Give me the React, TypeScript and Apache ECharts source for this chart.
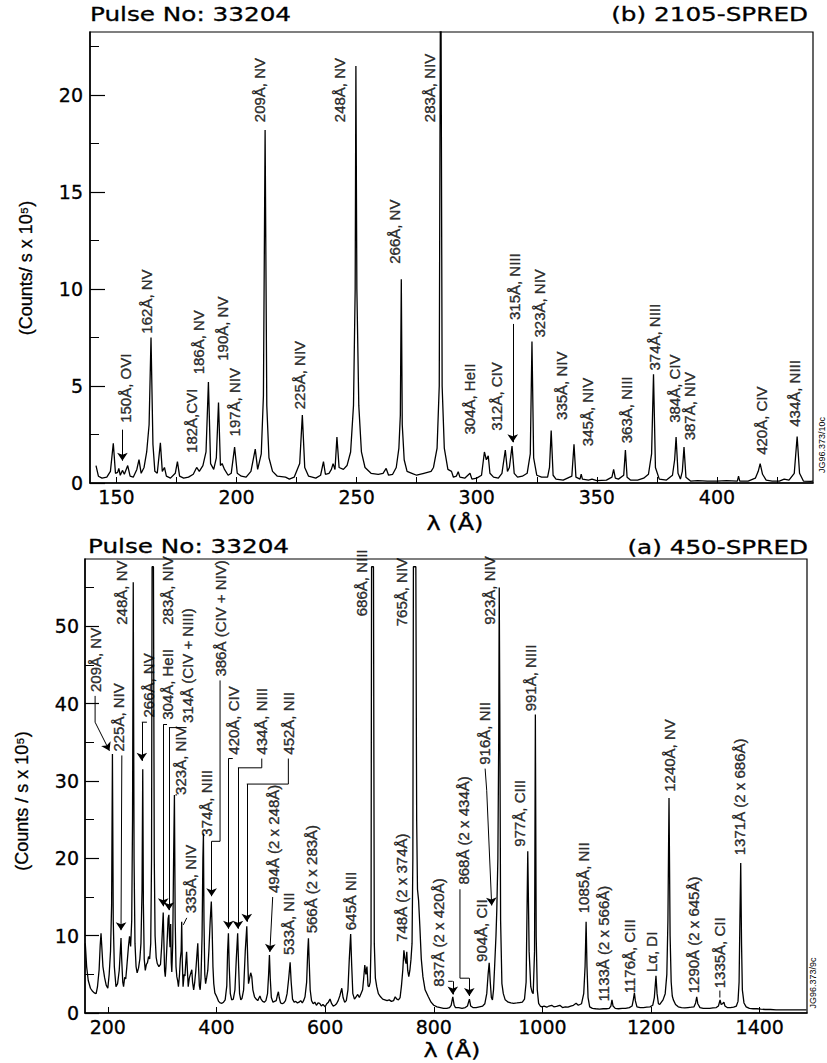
import React, { useEffect, useRef } from 'react';
import * as echarts from 'echarts';

// ---------- data: (b) 2105-SPRED (wavelength Å, counts/s x 1e5) ----------
const topSpectrum: [number, number][] = [
  [141.5, 0.9], [142.5, 0.35], [144, 0.25], [146, 0.3], [147.5, 0.6], [148.7, 2.05], [149.6, 0.5],
  [150.5, 0.55], [151, 0.75], [151.6, 0.4], [152.5, 0.65], [153.3, 0.45], [154.7, 0.9], [155.7, 0.35],
  [157, 0.3], [158.5, 0.7], [159.4, 1.2], [160.3, 0.5], [161.5, 0.8], [162.6, 1.6], [163.6, 3.0],
  [164.4, 7.5], [165.2, 2.0], [166, 0.6], [167, 0.5], [168.3, 2.07], [169.1, 0.6], [170, 0.8],
  [170.8, 0.35], [172.5, 0.25], [174.5, 0.5], [175.4, 1.1], [176.3, 0.35], [178, 0.25], [180, 0.3],
  [182, 0.45], [183.4, 0.8], [184.5, 0.6], [186, 0.9], [187.3, 1.6], [188.3, 5.2], [189.2, 1.0],
  [190.5, 0.7], [191.6, 1.3], [192.5, 4.15], [193.3, 0.9], [194, 1.0], [195, 0.7], [196.5, 0.4],
  [197.8, 0.5], [199.2, 1.85], [200.3, 0.5], [202, 0.35], [204, 0.3], [206, 0.6], [207.8, 1.75],
  [208.8, 0.7], [210.3, 1.5], [211.2, 4.5], [211.9, 18.2], [212.6, 4.0], [213.5, 1.3], [215, 0.6],
  [217, 0.35], [220.4, 0.3], [222, 0.2], [224, 0.3], [226.3, 1.0], [227.4, 3.5], [228.4, 0.8],
  [230, 0.35], [233, 0.25], [235, 0.4], [236.2, 1.1], [237, 0.45], [238.5, 0.5], [239.5, 0.7],
  [240.2, 1.0], [241, 0.7], [241.8, 2.37], [242.7, 0.8], [244.5, 0.7], [246, 0.9], [247.5, 1.6],
  [248.7, 4.0], [249.4, 10], [249.7, 21.5], [250.1, 10], [250.9, 4.0], [252, 1.6], [253.5, 0.8],
  [256, 0.5], [259, 0.45], [261, 0.5], [262.3, 0.75], [263.3, 0.4], [265, 0.45], [266.5, 0.8],
  [267.6, 1.8], [268.2, 3.5], [268.6, 10.5], [269, 3.0], [269.8, 1.2], [271, 0.6], [273, 0.5],
  [275, 0.4], [278, 0.5], [281, 0.6], [282, 0.8], [283.5, 1.8], [284.4, 5.0], [285, 30],
  [285.6, 5.0], [286.5, 1.8], [288, 0.7], [289.5, 0.6], [290.3, 0.3], [291.5, 0.35], [292.3, 0.58],
  [293, 0.3], [295, 0.25], [297.2, 0.5], [298, 0.2], [300, 0.25], [302, 0.4], [303.2, 1.6],
  [304, 1.2], [304.8, 1.4], [305.5, 0.5], [307, 0.3], [309, 0.25], [310.5, 0.5], [311.9, 1.7],
  [312.8, 0.6], [313.6, 0.8], [314.7, 1.9], [315.6, 0.5], [317, 0.3], [319, 0.35], [321, 0.5],
  [322.3, 1.5], [323, 7.3], [323.7, 1.3], [325, 0.4], [327, 0.3], [329.5, 0.3], [330.3, 0.8],
  [331, 2.7], [331.8, 0.4], [333, 0.2], [336, 0.15], [339.6, 0.35], [340.5, 2.0], [341.3, 0.3],
  [343, 0.2], [343.5, 0.45], [344, 0.2], [346.5, 0.15], [348, 0.2], [350, 0.12], [354, 0.15],
  [356.3, 0.3], [357, 0.7], [357.7, 0.25], [359, 0.2], [361.2, 0.4], [361.9, 1.7], [362.6, 0.3],
  [364, 0.15], [367, 0.15], [369.5, 0.25], [370.5, 0.35], [371.5, 0.45], [372.8, 1.5], [373.6, 5.6],
  [374.4, 0.8], [376, 0.2], [379, 0.15], [381.5, 0.4], [382.4, 1.2], [383, 2.37], [383.8, 0.5],
  [384.8, 0.2], [385.6, 0.6], [386.3, 1.85], [387.1, 0.3], [389, 0.1], [392, 0.12], [396, 0.1],
  [400, 0.1], [404, 0.12], [408.5, 0.1], [409, 0.35], [409.5, 0.1], [413, 0.1], [416, 0.25],
  [417.2, 0.6], [418, 1.0], [419, 0.45], [420.5, 0.15], [423, 0.1], [426, 0.1], [428, 0.2],
  [430, 0.15], [432.2, 0.5], [433.4, 2.4], [434.4, 0.5], [436, 0.1], [439, 0.08], [440, 0.1],
];

// ---------- data: (a) 450-SPRED ----------
const bottomSpectrum: [number, number][] = [
  [158.5, 9.0], [161, 6.0], [164, 4.2], [168, 3.2], [172, 2.8], [175, 2.6], [178.5, 2.5], [181, 3.4],
  [184, 5.6], [186, 8.8], [187.5, 10.3], [189, 8.5], [191, 6.0], [194, 4.6], [197, 3.6], [200, 3.2],
  [202.5, 5.0], [205, 8.0], [207, 14], [208.5, 33.5], [210, 12], [212, 6.0], [215, 3.4], [218, 3.8],
  [221, 5.5], [223, 8.0], [224.3, 9.7], [225.5, 7.0], [227.5, 4.0], [229, 3.4], [231, 4.6], [233, 4.4],
  [235, 6.0], [238, 8.6], [240, 9.9], [242, 8.6], [244, 12], [245.5, 25], [246.8, 55.7], [248.3, 20],
  [250, 9.0], [252, 6.0], [254, 5.2], [256.5, 5.8], [259, 7.0], [261, 9.0], [263, 16], [264.3, 31.5],
  [265.5, 14], [267, 7.0], [269, 5.5], [271, 6.3], [273, 6.5], [275, 7.3], [277, 7.0], [279, 9.0],
  [280.5, 20], [281.5, 57.7], [284, 57.7], [285.5, 20], [287, 10], [289, 7.2], [291, 6.4], [294, 6.0],
  [297, 6.3], [299, 8.5], [302, 13.0], [303.3, 9.0], [304.5, 5.5], [305.8, 4.7], [307, 6.0], [309, 9.0],
  [311, 12.2], [312.4, 12.7], [313.4, 10], [314.5, 8.5], [315.7, 11.5], [316.8, 6.5], [317.8, 5.3],
  [319.5, 9.0], [321, 19.4], [322.6, 28.2], [324, 12], [325.5, 6.0], [327, 4.7], [328.5, 4.2], [330, 3.4],
  [332, 5.0], [333.5, 7.0], [335, 8.0], [336, 11.8], [337, 7.0], [338.5, 3.4], [340.5, 5.0], [342, 4.8],
  [343.5, 6.5], [345, 7.9], [346.5, 5.5], [348, 3.4], [350, 4.5], [352, 5.0], [354.6, 5.6], [356, 4.0],
  [358, 3.0], [360, 4.0], [362, 5.5], [364, 7.5], [365.6, 9.0], [367, 6.0], [368.5, 3.5], [370, 3.0],
  [371.5, 4.5], [373.5, 10], [375, 20], [376, 23.2], [377, 12], [378.5, 5.0], [380, 3.8], [382, 4.6],
  [384, 5.5], [386, 8.0], [388.5, 12], [390.5, 14.4], [392, 11], [393.5, 6.0], [395, 3.8], [397, 2.6],
  [400.5, 2.1], [404, 1.5], [407, 1.3], [410, 1.25], [413, 1.4], [416, 1.7], [419, 3.5], [420.5, 8.0],
  [422, 10.3], [423.5, 6.0], [425.5, 2.5], [428, 1.7], [431, 1.8], [434, 3.0], [436.5, 7.0], [439, 10.3],
  [440.8, 6.0], [442.5, 2.5], [444.8, 1.7], [447, 1.9], [450, 3.0], [453, 8.0], [455.8, 11.2], [457.5, 7.0],
  [459, 3.8], [461, 4.5], [463, 5.2], [465, 4.7], [467, 3.0], [470, 2.1], [473, 1.8], [476, 1.6],
  [478, 1.9], [480, 2.2], [482, 1.8], [485, 1.5], [488, 1.4], [491, 1.6], [494, 2.5], [496, 5.0],
  [497.5, 7.5], [499, 4.5], [501, 2.0], [504, 1.4], [507, 1.5], [510, 1.6], [512.5, 2.4], [514, 2.75],
  [515.5, 2.0], [518, 1.3], [521, 1.2], [524, 1.3], [527, 1.6], [530, 2.5], [533, 4.5], [535.6, 6.55],
  [537.5, 4.0], [540, 1.8], [543, 1.4], [546, 1.5], [549, 1.3], [552, 1.4], [555, 1.6], [558, 1.3],
  [561, 1.7], [563, 2.1], [566, 4.0], [568, 8.0], [569.3, 9.65], [570.5, 7.0], [572.5, 3.0], [575, 1.6],
  [578, 1.2], [581, 1.4], [584, 1.0], [587, 1.3], [590, 1.25], [593, 0.9], [596, 1.1], [600, 0.8],
  [603, 1.2], [606, 1.4], [609, 1.8], [612, 1.2], [615, 0.9], [618, 1.0], [621, 1.2], [624, 1.6],
  [627, 2.2], [630.7, 3.2], [633, 2.0], [636, 1.4], [639, 1.6], [642, 3.0], [644.5, 7.0], [647, 10.2],
  [649, 6.0], [651, 2.5], [654, 1.8], [657, 2.1], [660, 2.4], [663, 2.0], [666, 2.5], [669, 3.0],
  [671, 4.5], [673, 6.2], [675, 5.0], [677, 6.0], [679, 3.5], [681, 3.4], [683, 4.0], [684.5, 9.0],
  [685.5, 57.7], [689, 57.7], [690.5, 9.0], [692.5, 4.5], [695, 3.4], [698, 2.5], [702, 2.1], [706, 1.8],
  [710, 1.7], [714, 1.6], [718, 1.7], [722, 1.5], [726, 1.6], [729, 2.1], [732, 1.8], [735, 1.7],
  [738, 2.0], [740.5, 3.5], [743, 5.6], [745, 8.1], [747, 7.0], [749, 6.4], [750.3, 7.9], [752, 5.5],
  [754, 4.7], [756, 5.5], [758, 6.9], [760, 9.0], [761.5, 20], [762.5, 57.7], [767, 57.7], [768.5, 25],
  [770, 16], [772, 14.6], [774.5, 11], [777, 7.0], [780, 4.7], [784, 3.0], [790, 2.1], [795, 1.4],
  [800, 1.0], [806, 0.8], [812, 0.7], [818, 0.6], [824, 0.6], [829, 0.7], [832, 1.0], [835, 2.1],
  [837.5, 1.0], [840, 0.7], [846, 0.7], [852, 0.6], [858, 0.7], [862, 0.9], [865.6, 1.8], [868, 0.9],
  [872, 0.7], [878, 0.7], [884, 0.8], [890, 0.9], [894, 1.2], [897.5, 2.5], [900, 5.0], [902, 6.5],
  [904, 4.0], [906, 2.0], [908, 1.7], [910, 3.0], [912, 6.0], [914.5, 10], [916, 13.3], [918, 20],
  [919.5, 35], [920.5, 55], [921.5, 40], [923, 12], [925.4, 3.8], [928, 2.5], [931.5, 1.7], [937, 1.4],
  [942, 1.3], [947, 1.25], [953, 1.3], [958, 1.35], [963, 1.4], [967, 1.8], [970, 4.0], [973, 20.9],
  [975.5, 8.0], [978.5, 3.4], [981, 2.7], [983, 2.5], [985.5, 8.0], [987, 38.6], [988.5, 10], [990.5, 3.0],
  [993, 1.25], [996, 0.9], [999, 0.8], [1003, 0.9], [1008, 0.75], [1012, 0.9], [1017, 1.0], [1021, 0.8],
  [1026, 0.85], [1032, 1.0], [1037, 0.7], [1042, 0.8], [1047, 0.75], [1052, 0.9], [1057, 1.0], [1062, 1.25],
  [1066, 1.0], [1072, 1.2], [1076, 2.5], [1078.5, 6.0], [1080.4, 11.8], [1082, 6.0], [1084, 2.0], [1087, 0.8],
  [1092, 0.6], [1098, 0.55], [1105, 0.5], [1112, 0.55], [1118, 0.55], [1123, 0.6], [1126, 0.9], [1128, 1.7],
  [1130, 0.9], [1134, 0.6], [1140, 0.55], [1147, 0.6], [1153, 0.6], [1160, 0.7], [1165, 0.9], [1167.5, 1.8],
  [1169.3, 2.6], [1171, 1.6], [1174, 0.8], [1180, 0.7], [1186, 0.7], [1192, 0.75], [1198, 0.8], [1203, 1.0],
  [1206, 2.0], [1209, 4.8], [1211, 2.5], [1213.5, 1.2], [1216, 1.1], [1219, 1.4], [1222, 1.7], [1226, 2.5],
  [1229, 5.0], [1231, 12], [1233, 27.8], [1235, 10], [1237, 4.0], [1239, 2.2], [1241, 1.7], [1245, 1.1],
  [1250, 0.8], [1256, 0.7], [1262, 0.65], [1268, 0.7], [1274, 0.75], [1279, 0.8], [1282, 1.3], [1284, 2.1],
  [1286, 1.2], [1290, 0.7], [1296, 0.6], [1302, 0.6], [1308, 0.6], [1314, 0.65], [1320, 0.7], [1324, 0.9],
  [1327, 1.7], [1329, 1.1], [1331.5, 1.2], [1334, 1.4], [1336, 0.9], [1340, 0.7], [1346, 0.7], [1352, 0.75],
  [1357, 0.9], [1360, 1.5], [1362, 4.0], [1363.5, 12], [1365, 19.4], [1366.5, 9.0], [1368, 3.0], [1371, 1.3],
  [1375, 0.8], [1381, 0.6], [1388, 0.55], [1395, 0.55], [1402, 0.5], [1410, 0.45], [1420, 0.45], [1430, 0.4],
  [1440, 0.4], [1450, 0.4], [1460, 0.4], [1470, 0.4], [1480, 0.4], [1486, 0.4],
];

// ---------- axis ticks ----------
const topXLabels = [150, 200, 250, 300, 350, 400];
const topXTicks = [150, 175, 200, 225, 250, 275, 300, 325, 350, 375, 400, 425];
const topYLabels = [0, 5, 10, 15, 20];
const topYMinor = [2.5, 7.5, 12.5, 17.5, 22.5];
const bottomXLabels = [200, 400, 600, 800, 1000, 1200, 1400];
const bottomYLabels = [0, 10, 20, 30, 40, 50];
const bottomYMinor = [5, 15, 25, 35, 45, 55];

// ---------- line identifications: [text, wavelength, counts at text start] ----------
const topLabels: [string, number, number][] = [
  ['150Å, OVI', 153.75, 3.1], ['162Å, NV', 162.5, 7.7], ['182Å,CVI', 181.25, 1.55],
  ['186Å, NV', 184.2, 5.6], ['190Å, NV', 194.2, 6.3], ['197Å, NIV', 199.2, 2.4],
  ['209Å, NV', 209.6, 18.6], ['225Å, NIV', 226.25, 3.8], ['248Å, NV', 242.9, 18.6],
  ['266Å, NV', 265.8, 11.3], ['283Å, NIV', 280.4, 18.6], ['304Å, HeII', 297.1, 2.5],
  ['312Å, CIV', 308.3, 2.7], ['315Å, NIII', 315.8, 8.4], ['323Å, NIV', 326.25, 7.5],
  ['335Å, NIV', 335.4, 3.25], ['345Å, NIV', 346.25, 1.9], ['363Å, NIII', 362.5, 2.05],
  ['374Å, NIII', 374.2, 5.8], ['384Å, CIV', 382.5, 3.1], ['387Å, NIV', 388.75, 2.2],
  ['420Å, CIV', 418.75, 1.45], ['434Å, NIII', 432.5, 2.9],
];
const topArrows: [number, number][][] = [
  [[152.5, 2.75], [152.5, 1.15]],
  [[315, 8.2], [315, 2.1]],
];

const bottomLabels: [string, number, number][] = [
  ['209Å, NV', 176.6, 41.5], ['225Å, NIV', 219.5, 33.8], ['248Å, NV', 225.8, 50.2],
  ['266Å, NV', 274.7, 38.2], ['283Å, NIV', 309.7, 50.2], ['304Å, HeII', 309.7, 37.9],
  ['314Å (CIV + NIII)', 346.5, 37.5], ['323Å, NIV', 333, 28.2], ['335Å, NIV', 351.4, 12.9],
  ['374Å, NIII', 382.2, 22.8], ['386Å (CIV + NIV)', 406.6, 43.5], ['420Å, CIV', 431.1, 33.4],
  ['434Å, NIII', 483.4, 33.4], ['452Å, NII', 532.3, 33.4], ['494Å (2 x 248Å)', 504.7, 15.5],
  ['533Å, NII', 532.3, 7.5], ['566Å (2 x 283Å)', 575.3, 10.3], ['645Å NII', 647.1, 10.7],
  ['686Å, NIII', 667.3, 51.3], ['748Å (2 x 374Å)', 741, 9.2], ['765Å, NIV', 741, 50.0],
  ['837Å (2 x 420Å)', 808.3, 3.4], ['868Å (2 x 434Å)', 854.3, 16.6], ['904Å, CII', 888.1, 6.6],
  ['916Å, NII', 894.2, 32.1], ['923Å, NIV', 902.1, 50.2], ['977Å, CIII', 957.3, 21.5],
  ['991Å, NIII', 978.8, 39.0], ['1085Å, NII', 1075, 12.9], ['1133Å (2 x 566Å)', 1111.9, 1.5],
  ['1176Å, CIII', 1161, 2.55], ['Lα, DI', 1201, 5.3], ['1240Å, NV', 1233.3, 28.6],
  ['1290Å (2 x 645Å)', 1277.5, 2.55], ['1335Å, CII', 1326.6, 3.2], ['1371Å (2 x 686Å)', 1363.4, 20.4],
];
const bottomArrows: [number, number][][] = [
  [[176.6, 41.0], [176.6, 37.6], [203, 33.9]],
  [[225.8, 33.3], [224.3, 10.7]],
  [[272, 37.6], [262.6, 37.6], [262.6, 32.6]],
  [[309, 37.3], [302, 37.3], [302, 13.8]],
  [[345, 36.9], [312.5, 36.9], [312.5, 13.3]],
  [[406.6, 43.0], [406.6, 22.2], [391, 22.2], [391, 15.1]],
  [[430, 32.9], [422, 32.9], [422, 10.9]],
  [[483.4, 32.9], [483.4, 31.7], [439.5, 31.7], [439.5, 10.9]],
  [[532.3, 32.9], [532.3, 29.6], [455.8, 29.6], [455.8, 11.8]],
  [[503.5, 15.0], [498.3, 7.9]],
  [[826.5, 4.1], [835, 4.1], [835, 2.4]],
  [[848.2, 16.0], [848.2, 4.5], [865.4, 4.5], [865.4, 2.2]],
  [[894.5, 31.6], [897.4, 28.8], [906.6, 13.9]],
];
const bottomDashes: [number, number][][] = [
  [[327.5, 28.2], [324.5, 28.2]],
  [[345.3, 12.3], [339, 11.4]],
  [[1326.6, 2.9], [1326.6, 2.0]],
];

const LABEL_FONT = '"Liberation Sans Narrow", "Liberation Sans", Arial, sans-serif';
const TICK_FONT = '"DejaVu Sans", Verdana, sans-serif';

function labelSeries(items: [string, number, number][], idx: number) {
  return {
    type: 'scatter',
    xAxisIndex: idx,
    yAxisIndex: idx * 2,
    silent: true,
    symbol: 'circle',
    symbolSize: 1,
    itemStyle: { color: 'rgba(0,0,0,0)' },
    data: items.map(([t, x, y]) => ({ name: t, value: [x, y] })),
    label: {
      show: true,
      formatter: '{b}',
      position: 'inside',
      rotate: 90,
      align: 'left',
      verticalAlign: 'middle',
      color: '#000',
      fontSize: 15,
      fontFamily: LABEL_FONT,
      textBorderColor: '#000',
      textBorderWidth: 0.4,
    },
    z: 5,
  };
}

function leaderSeries(paths: [number, number][][], idx: number, arrow: boolean) {
  const plain: { coords: [number, number][] }[] = [];
  const heads: { coords: [number, number][] }[] = [];
  paths.forEach((p) => {
    if (arrow) {
      if (p.length > 2) plain.push({ coords: p.slice(0, p.length - 1) });
      heads.push({ coords: p.slice(p.length - 2) });
    } else {
      plain.push({ coords: p });
    }
  });
  const base = {
    type: 'lines',
    coordinateSystem: 'cartesian2d',
    xAxisIndex: idx,
    yAxisIndex: idx * 2,
    silent: true,
    lineStyle: { color: '#000', width: 1, opacity: 1, curveness: 0 },
    z: 4,
  };
  const out: any[] = [];
  if (plain.length) out.push({ ...base, polyline: true, symbol: 'none', data: plain });
  if (heads.length)
    out.push({ ...base, polyline: false, symbol: ['none', 'arrow'], symbolSize: 8, data: heads });
  return out;
}

const plainNumber = (v: number) => String(v);

function tickLabel(values: number[], margin: number) {
  return {
    customValues: values,
    formatter: plainNumber,
    color: '#000',
    fontSize: 19,
    fontFamily: TICK_FONT,
    margin,
    textBorderColor: '#000',
    textBorderWidth: 0.3,
  };
}

function valueAxisCommon() {
  return {
    type: 'value',
    axisLine: { show: true, onZero: false, lineStyle: { color: '#000', width: 1.5 } },
    splitLine: { show: false },
  };
}

function buildOption() {
  return {
    animation: false,
    backgroundColor: '#fff',
    grid: [
      { left: 90, top: 32, width: 723, height: 451, show: true, borderColor: '#000', borderWidth: 1.2, containLabel: false },
      { left: 85, top: 559, width: 722, height: 454, show: true, borderColor: '#000', borderWidth: 1.2, containLabel: false },
    ],
    xAxis: [
      {
        ...valueAxisCommon(),
        gridIndex: 0,
        min: 139,
        max: 440,
        axisTick: { show: true, inside: true, length: 6, customValues: topXTicks, lineStyle: { color: '#000', width: 1 } },
        axisLabel: tickLabel(topXLabels, 4),
      },
      {
        ...valueAxisCommon(),
        gridIndex: 1,
        min: 158,
        max: 1487,
        axisTick: { show: true, inside: true, length: 6, customValues: bottomXLabels, lineStyle: { color: '#000', width: 1 } },
        axisLabel: tickLabel(bottomXLabels, 4),
      },
    ],
    yAxis: [
      {
        ...valueAxisCommon(),
        gridIndex: 0,
        position: 'left',
        min: 0,
        max: 23.25,
        axisTick: { show: true, inside: true, length: 15, customValues: topYLabels, lineStyle: { color: '#000', width: 1.2 } },
        axisLabel: tickLabel(topYLabels, 7),
      },
      {
        ...valueAxisCommon(),
        gridIndex: 0,
        position: 'left',
        offset: 0,
        min: 0,
        max: 23.25,
        axisLine: { show: false },
        axisTick: { show: true, inside: true, length: 9, customValues: topYMinor, lineStyle: { color: '#000', width: 1 } },
        axisLabel: { show: false },
      },
      {
        ...valueAxisCommon(),
        gridIndex: 1,
        position: 'left',
        min: 0,
        max: 58.7,
        axisTick: { show: true, inside: true, length: 14, customValues: bottomYLabels, lineStyle: { color: '#000', width: 1.2 } },
        axisLabel: tickLabel(bottomYLabels, 6),
      },
      {
        ...valueAxisCommon(),
        gridIndex: 1,
        position: 'left',
        offset: 0,
        min: 0,
        max: 58.7,
        axisLine: { show: false },
        axisTick: { show: true, inside: true, length: 9, customValues: bottomYMinor, lineStyle: { color: '#000', width: 1 } },
        axisLabel: { show: false },
      },
    ],
    series: [
      {
        type: 'line',
        xAxisIndex: 0,
        yAxisIndex: 0,
        data: topSpectrum,
        showSymbol: false,
        symbol: 'none',
        clip: true,
        lineStyle: { color: '#000', width: 1.3 },
        silent: true,
      },
      {
        type: 'line',
        xAxisIndex: 1,
        yAxisIndex: 2,
        data: bottomSpectrum,
        showSymbol: false,
        symbol: 'none',
        clip: true,
        lineStyle: { color: '#000', width: 1.3 },
        silent: true,
      },
      labelSeries(topLabels, 0),
      labelSeries(bottomLabels, 1),
      ...leaderSeries(topArrows, 0, true),
      ...leaderSeries(bottomArrows, 1, true),
      ...leaderSeries(bottomDashes, 1, false),
    ],
    graphic: [
      { type: 'text', x: 90, y: 15, scaleX: 1.3, style: { text: 'Pulse No: 33204', fontSize: 19, fontFamily: TICK_FONT, fill: '#000', stroke: '#000', lineWidth: 0.3, align: 'left', verticalAlign: 'middle' } },
      { type: 'text', x: 808, y: 15, scaleX: 1.3, style: { text: '(b) 2105-SPRED', fontSize: 19, fontFamily: TICK_FONT, fill: '#000', stroke: '#000', lineWidth: 0.3, align: 'right', verticalAlign: 'middle' } },
      { type: 'text', x: 88, y: 547, scaleX: 1.3, style: { text: 'Pulse No: 33204', fontSize: 19, fontFamily: TICK_FONT, fill: '#000', stroke: '#000', lineWidth: 0.3, align: 'left', verticalAlign: 'middle' } },
      { type: 'text', x: 808, y: 548, scaleX: 1.3, style: { text: '(a) 450-SPRED', fontSize: 19, fontFamily: TICK_FONT, fill: '#000', stroke: '#000', lineWidth: 0.3, align: 'right', verticalAlign: 'middle' } },
      { type: 'text', x: 455, y: 523, scaleX: 1.2, style: { text: 'λ (Å)', fontSize: 20, fontFamily: TICK_FONT, fill: '#000', stroke: '#000', lineWidth: 0.3, align: 'center', verticalAlign: 'middle' } },
      { type: 'text', x: 452, y: 1050, scaleX: 1.2, style: { text: 'λ (Å)', fontSize: 20, fontFamily: TICK_FONT, fill: '#000', stroke: '#000', lineWidth: 0.3, align: 'center', verticalAlign: 'middle' } },
      { type: 'text', x: 26, y: 268, rotation: Math.PI / 2, style: { text: '(Counts/ s x 10⁵)', fontSize: 18, fontFamily: LABEL_FONT, fill: '#000', stroke: '#000', lineWidth: 0.3, align: 'center', verticalAlign: 'middle' } },
      { type: 'text', x: 22, y: 801, rotation: Math.PI / 2, style: { text: '(Counts / s x 10⁵)', fontSize: 18, fontFamily: LABEL_FONT, fill: '#000', stroke: '#000', lineWidth: 0.3, align: 'center', verticalAlign: 'middle' } },
      { type: 'text', x: 822, y: 445, rotation: Math.PI / 2, style: { text: 'JG96.373/10c', fontSize: 9, fontFamily: LABEL_FONT, fill: '#000', align: 'center', verticalAlign: 'middle' } },
      { type: 'text', x: 813, y: 983, rotation: Math.PI / 2, style: { text: 'JG96.373/9c', fontSize: 9, fontFamily: LABEL_FONT, fill: '#000', align: 'center', verticalAlign: 'middle' } },
    ],
  };
}

export default function App() {
  const ref = useRef<HTMLDivElement>(null);
  useEffect(() => {
    if (!ref.current) return;
    const chart = echarts.init(ref.current, undefined, { renderer: 'svg' });
    chart.setOption(buildOption() as any);
    return () => chart.dispose();
  }, []);
  return (
    <div
      ref={ref}
      style={{ position: 'absolute', left: 0, top: 0, width: 827, height: 1063, background: '#fff' }}
    />
  );
}
